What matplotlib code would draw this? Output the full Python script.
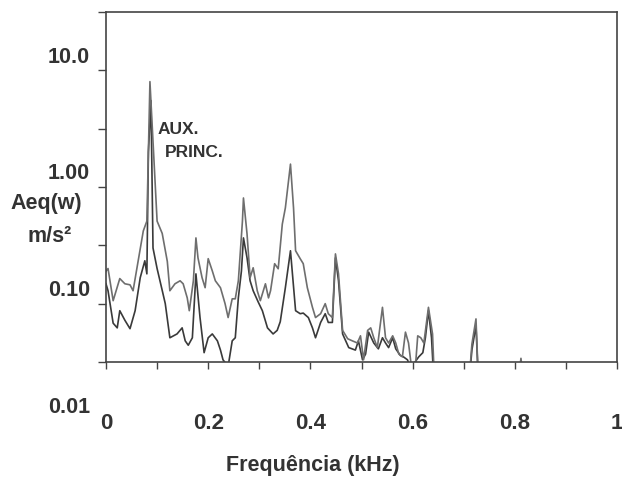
import numpy as np
import matplotlib.pyplot as plt
from matplotlib.ticker import FixedLocator, NullFormatter

plt.rcParams['font.family'] = ['Liberation Sans', 'DejaVu Sans']
plt.rcParams['font.weight'] = 'bold'

# frequency (kHz) and Aeq (m/s2)
freq_aux = [0.000, 0.004, 0.014, 0.027, 0.037, 0.047, 0.053, 0.063, 0.073, 0.080,
            0.086, 0.100, 0.110, 0.120, 0.125, 0.135, 0.145, 0.151, 0.159, 0.163,
            0.171, 0.176, 0.180, 0.188, 0.194, 0.200, 0.208, 0.214, 0.224, 0.233,
            0.239, 0.247, 0.253, 0.259, 0.267, 0.269, 0.276, 0.282, 0.288, 0.296,
            0.302, 0.312, 0.318, 0.322, 0.330, 0.337, 0.345, 0.351, 0.361, 0.367,
            0.371, 0.380, 0.386, 0.394, 0.404, 0.410, 0.420, 0.429, 0.435, 0.443,
            0.449, 0.455, 0.463, 0.473, 0.482, 0.492, 0.498, 0.504, 0.512, 0.518,
            0.524, 0.531, 0.541, 0.547, 0.553, 0.561, 0.567, 0.573, 0.580, 0.586,
            0.592, 0.598, 0.605, 0.610, 0.616, 0.622, 0.631, 0.639, 0.643, 0.710,
            0.716, 0.724, 0.729, 0.735, 0.806, 0.812, 0.818, 0.900]
aeq_aux = [0.190, 0.200, 0.106, 0.164, 0.148, 0.145, 0.129, 0.233, 0.420, 0.510,
           8.000, 0.510, 0.400, 0.230, 0.129, 0.148, 0.157, 0.148, 0.112, 0.087,
           0.157, 0.366, 0.247, 0.167, 0.137, 0.243, 0.191, 0.157, 0.137, 0.100,
           0.076, 0.110, 0.110, 0.157, 0.510, 0.805, 0.396, 0.167, 0.203, 0.129,
           0.106, 0.148, 0.112, 0.129, 0.220, 0.199, 0.480, 0.662, 1.570, 0.660,
           0.284, 0.243, 0.220, 0.137, 0.093, 0.076, 0.082, 0.100, 0.082, 0.076,
           0.267, 0.180, 0.059, 0.050, 0.048, 0.046, 0.053, 0.033, 0.059, 0.062,
           0.051, 0.042, 0.093, 0.051, 0.046, 0.053, 0.046, 0.037, 0.035, 0.057,
           0.046, 0.028, 0.027, 0.053, 0.051, 0.046, 0.093, 0.055, 0.020, 0.020,
           0.045, 0.074, 0.020, 0.020, 0.020, 0.034, 0.020, 0.020]

freq_princ = [0.000, 0.004, 0.014, 0.022, 0.027, 0.037, 0.047, 0.057, 0.067, 0.076,
              0.080, 0.083, 0.088, 0.092, 0.100, 0.110, 0.116, 0.125, 0.139, 0.149,
              0.155, 0.161, 0.169, 0.176, 0.184, 0.192, 0.200, 0.208, 0.218, 0.224,
              0.229, 0.239, 0.247, 0.253, 0.259, 0.265, 0.269, 0.276, 0.282, 0.288,
              0.298, 0.306, 0.316, 0.327, 0.335, 0.341, 0.351, 0.361, 0.371, 0.380,
              0.386, 0.396, 0.404, 0.410, 0.420, 0.429, 0.435, 0.443, 0.449, 0.455,
              0.463, 0.475, 0.488, 0.494, 0.502, 0.508, 0.514, 0.524, 0.533, 0.541,
              0.547, 0.553, 0.561, 0.567, 0.576, 0.582, 0.590, 0.596, 0.612, 0.620,
              0.625, 0.631, 0.637, 0.642, 0.710, 0.716, 0.724, 0.729, 0.900]
aeq_princ = [0.148, 0.129, 0.068, 0.062, 0.087, 0.072, 0.061, 0.087, 0.167, 0.233,
             0.180, 2.000, 5.500, 0.300, 0.200, 0.130, 0.100, 0.051, 0.055, 0.062,
             0.048, 0.044, 0.051, 0.180, 0.076, 0.038, 0.051, 0.055, 0.048, 0.040,
             0.033, 0.029, 0.048, 0.051, 0.112, 0.190, 0.366, 0.247, 0.157, 0.129,
             0.103, 0.087, 0.062, 0.055, 0.059, 0.070, 0.137, 0.284, 0.087, 0.082,
             0.083, 0.076, 0.062, 0.051, 0.069, 0.082, 0.069, 0.069, 0.247, 0.157,
             0.055, 0.042, 0.040, 0.048, 0.033, 0.037, 0.057, 0.046, 0.041, 0.051,
             0.046, 0.042, 0.051, 0.041, 0.036, 0.035, 0.033, 0.028, 0.035, 0.038,
             0.051, 0.087, 0.051, 0.020, 0.020, 0.040, 0.065, 0.020, 0.020]

x_tick_labels = ['0', '', '0.2', '', '0.4', '', '0.6', '', '0.8', '', '1']
y_label_values = [10.0, 1.0, 0.1, 0.01]
y_label_texts = ['10.0', '1.00', '0.10', '0.01']

txt = '#333333'

fig = plt.figure(figsize=(6.22, 4.79), dpi=100)
ax = fig.add_axes([0.1704, 0.2443, 0.8216, 0.7307])

ax.plot(freq_princ, aeq_princ, color='#3a3a3a', lw=1.2)
ax.plot(freq_aux, aeq_aux, color='#6e6e6e', lw=1.2)

ax.set_yscale('log')
ax.set_xlim(0, 1.0)
ax.set_ylim(10 ** -1.5, 10 ** 1.5)

# ticks every 0.1 kHz, labels every 0.2
ax.xaxis.set_major_locator(FixedLocator(np.arange(0, 1.01, 0.1)))
ax.set_xticklabels(x_tick_labels)
ax.yaxis.set_major_locator(FixedLocator(10 ** np.arange(-1.5, 1.51, 0.5)))
ax.yaxis.set_minor_locator(FixedLocator([]))
ax.yaxis.set_major_formatter(NullFormatter())
ax.tick_params(axis='x', direction='out', length=5, width=1, colors='#444444',
               labelsize=16, pad=32, labelcolor=txt)
ax.tick_params(axis='y', direction='out', length=6, width=1, colors='#444444')

for s in ax.spines.values():
    s.set_color('#444444')
    s.set_linewidth(1.2)

# the y labels in the scan sit a bit above their ticks
for v, t in zip(y_label_values, y_label_texts):
    ax.annotate(t, xy=(0, v), xycoords=('axes fraction', 'data'),
                xytext=(-11.5, 9.5), textcoords='offset points',
                ha='right', va='center', fontsize=15.5, color=txt,
                fontweight='bold', annotation_clip=False)

ax.text(0.100, 3.13, 'AUX.', fontsize=12.5, color=txt, fontweight='bold',
        va='center')
ax.text(0.1157, 1.99, 'PRINC.', fontsize=12.5, color=txt, fontweight='bold',
        va='center')

fig.text(0.074, 0.576, 'Aeq(w)', ha='center', va='center', fontsize=15.5,
         color=txt, fontweight='bold')
fig.text(0.080, 0.507, 'm/s²', ha='center', va='center', fontsize=15.5,
         color=txt, fontweight='bold')
fig.text(0.503, 0.029, 'Frequência (kHz)', ha='center', va='center',
         fontsize=15.5, color=txt, fontweight='bold')

fig.savefig('out.png', dpi=100)
